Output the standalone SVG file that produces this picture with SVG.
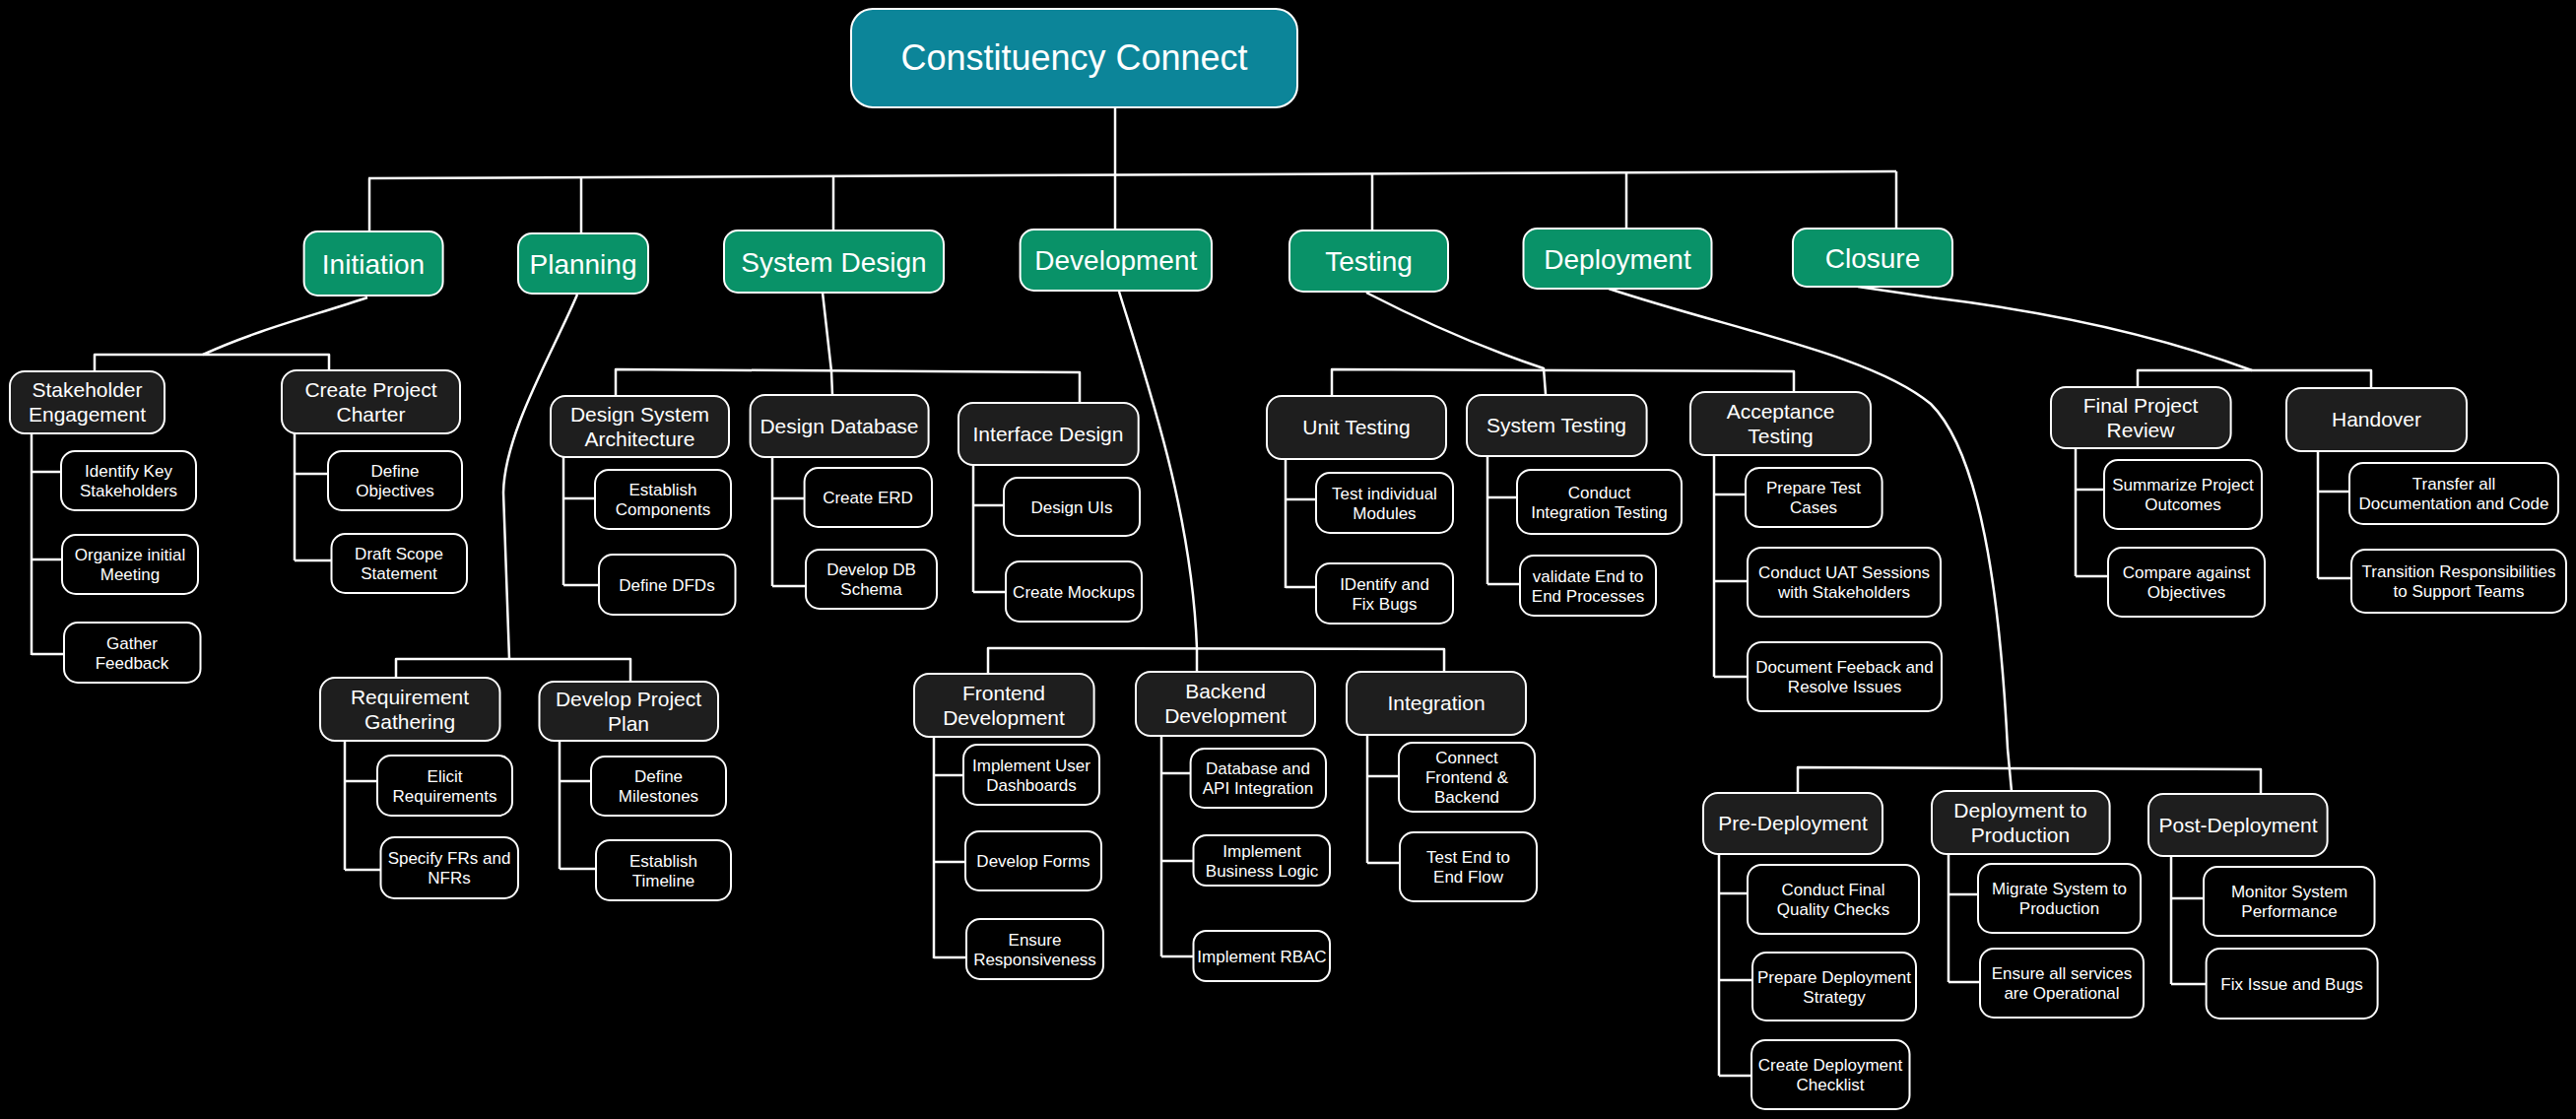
<svg xmlns="http://www.w3.org/2000/svg" width="2615" height="1136" viewBox="0 0 2615 1136">
<style>
.n rect{stroke:#fff;stroke-width:2}
.root rect{fill:#0c8599}
.phase rect{fill:#099268}
.task rect{fill:#1e1e1e}
.leaf rect{fill:#000}
text{font-family:"Liberation Sans",Arial,sans-serif;fill:#fff;text-anchor:middle}
.root text{font-size:36px}
.phase text{font-size:28px}
.task text{font-size:21px}
.leaf text{font-size:17px}
.conn path{stroke:#fff;stroke-width:2.5;fill:none;stroke-linejoin:round}
</style>
<rect width="2615" height="1136" fill="#000"/>
<g class="conn" id="connectors">
<path d="M1132,109 L1132,233"/>
<path d="M374,181 L1925,174"/>
<path d="M375,181 L375,235"/>
<path d="M590,180 L590,237"/>
<path d="M846,179 L846,234"/>
<path d="M1393,176 L1393,234"/>
<path d="M1651,175 L1651,232"/>
<path d="M1925,174 L1925,232"/>
<!-- Initiation -->
<path d="M373,302 C320,320 260,335 206,360"/>
<path d="M96,377 L96,360 L334,360 L334,376"/>
<path d="M32,440 L32,665"/>
<path d="M32,479 L62,479"/><path d="M32,568 L63,568"/><path d="M32,664 L65,664"/>
<path d="M299,440 L299,569"/>
<path d="M299,481 L333,481"/><path d="M299,569 L336,569"/>
<!-- Planning -->
<path d="M586,299 C560,360 512,440 511,500 L517,669"/>
<path d="M402,688 L402,669 L640,669 L640,692"/>
<path d="M350,752 L350,883"/>
<path d="M350,793 L383,793"/><path d="M350,883 L386,883"/>
<path d="M568,752 L568,882"/>
<path d="M568,793 L600,793"/><path d="M568,882 L605,882"/>
<!-- System Design -->
<path d="M835,297 L844,377 L845,401"/>
<path d="M625,402 L625,375 L1096,378 L1096,409"/>
<path d="M572,464 L572,594"/>
<path d="M572,506 L604,506"/><path d="M572,594 L608,594"/>
<path d="M784,464 L784,595"/>
<path d="M784,506 L816,506"/><path d="M784,595 L818,595"/>
<path d="M988,472 L988,601"/>
<path d="M988,513 L1019,513"/><path d="M988,601 L1021,601"/>
<!-- Development -->
<path d="M1136,296 C1165,390 1210,520 1215,658 L1215,682"/>
<path d="M1003,684 L1003,658 L1466,659 L1466,682"/>
<path d="M948,748 L948,973"/>
<path d="M948,787 L978,787"/><path d="M948,875 L980,875"/><path d="M948,972 L981,972"/>
<path d="M1179,748 L1179,971"/>
<path d="M1179,785 L1209,785"/><path d="M1179,874 L1212,874"/><path d="M1179,971 L1212,971"/>
<path d="M1388,746 L1388,876"/>
<path d="M1388,788 L1420,788"/><path d="M1388,876 L1421,876"/>
<!-- Testing -->
<path d="M1387,297 Q1480,345 1567,374 L1569,400"/>
<path d="M1352,402 L1352,375 L1821,377 L1821,398"/>
<path d="M1305,466 L1305,597"/>
<path d="M1305,507 L1336,507"/><path d="M1305,596 L1336,596"/>
<path d="M1510,463 L1510,593"/>
<path d="M1510,505 L1540,505"/><path d="M1510,593 L1543,593"/>
<path d="M1740,462 L1740,687"/>
<path d="M1740,502 L1772,502"/><path d="M1740,590 L1774,590"/><path d="M1740,687 L1774,687"/>
<!-- Deployment -->
<path d="M1633,293 C1760,335 1900,360 1960,410 C2010,460 2030,600 2038,760 L2042,803"/>
<path d="M1825,805 L1825,779 L2295,781 L2295,806"/>
<path d="M1745,867 L1745,1092"/>
<path d="M1745,907 L1774,907"/><path d="M1745,995 L1779,995"/><path d="M1745,1092 L1778,1092"/>
<path d="M1978,867 L1978,997"/>
<path d="M1978,908 L2008,908"/><path d="M1978,997 L2010,997"/>
<path d="M2204,869 L2204,999"/>
<path d="M2204,912 L2237,912"/><path d="M2204,999 L2240,999"/>
<!-- Closure -->
<path d="M1886,291 L1961,302 Q2150,325 2286,376"/>
<path d="M2170,393 L2170,376 L2407,376 L2407,395"/>
<path d="M2107,455 L2107,585"/>
<path d="M2107,497 L2136,497"/><path d="M2107,585 L2140,585"/>
<path d="M2353,458 L2353,587"/>
<path d="M2353,499 L2385,499"/><path d="M2353,587 L2387,587"/>
</g>

<g id="root" class="n root"><rect x="864" y="9" width="453" height="100" rx="22"/><text x="1090.5" y="71">Constituency Connect</text></g>

<g id="initiation" class="n phase"><rect x="308.6" y="235" width="141" height="65" rx="14"/><text x="379" y="277.5">Initiation</text></g>
<g id="planning" class="n phase"><rect x="526" y="237" width="132" height="61" rx="14"/><text x="592" y="277.5">Planning</text></g>
<g id="system-design" class="n phase"><rect x="735" y="234" width="223" height="63" rx="14"/><text x="846.5" y="275.5">System Design</text></g>
<g id="development" class="n phase"><rect x="1035.6" y="233" width="194.4" height="62" rx="14"/><text x="1132.8" y="274">Development</text></g>
<g id="testing" class="n phase"><rect x="1309" y="234" width="161" height="62" rx="14"/><text x="1389.5" y="275">Testing</text></g>
<g id="deployment" class="n phase"><rect x="1546.5" y="232" width="191" height="61" rx="14"/><text x="1642" y="272.5">Deployment</text></g>
<g id="closure" class="n phase"><rect x="1820" y="232" width="162" height="59" rx="14"/><text x="1901" y="271.5">Closure</text></g>

<g id="stakeholder-engagement" class="n task"><rect x="10" y="377" width="157" height="63" rx="15"/><text x="88.5" y="408.5"><tspan x="88.5" dy="-5.5">Stakeholder</tspan><tspan x="88.5" dy="25">Engagement</tspan></text></g>
<g id="create-project-charter" class="n task"><rect x="286" y="376" width="181" height="64" rx="15"/><text x="376.5" y="408"><tspan x="376.5" dy="-5.5">Create Project</tspan><tspan x="376.5" dy="25">Charter</tspan></text></g>
<g id="requirement-gathering" class="n task"><rect x="325" y="688" width="182.5" height="64" rx="15"/><text x="416" y="720"><tspan x="416" dy="-5.5">Requirement</tspan><tspan x="416" dy="25">Gathering</tspan></text></g>
<g id="develop-project-plan" class="n task"><rect x="547.5" y="692" width="181.5" height="60" rx="15"/><text x="638" y="722"><tspan x="638" dy="-5.5">Develop Project</tspan><tspan x="638" dy="25">Plan</tspan></text></g>
<g id="design-system-architecture" class="n task"><rect x="559" y="402" width="181" height="62" rx="15"/><text x="649.5" y="433"><tspan x="649.5" dy="-5.5">Design System</tspan><tspan x="649.5" dy="25">Architecture</tspan></text></g>
<g id="design-database" class="n task"><rect x="761.6" y="401" width="181" height="63" rx="15"/><text x="852" y="439.5">Design Database</text></g>
<g id="interface-design" class="n task"><rect x="973" y="409" width="182.7" height="63" rx="15"/><text x="1064" y="447.5">Interface Design</text></g>
<g id="frontend-development" class="n task"><rect x="928" y="684" width="182.6" height="64" rx="15"/><text x="1019" y="716"><tspan x="1019" dy="-5.5">Frontend</tspan><tspan x="1019" dy="25">Development</tspan></text></g>
<g id="backend-development" class="n task"><rect x="1153" y="682" width="182" height="65" rx="15"/><text x="1244" y="714.5"><tspan x="1244" dy="-5.5">Backend</tspan><tspan x="1244" dy="25">Development</tspan></text></g>
<g id="integration" class="n task"><rect x="1367" y="682" width="182" height="64" rx="15"/><text x="1458" y="721">Integration</text></g>
<g id="unit-testing" class="n task"><rect x="1286" y="402" width="182" height="64" rx="15"/><text x="1377" y="441">Unit Testing</text></g>
<g id="system-testing" class="n task"><rect x="1489" y="401" width="182.6" height="62" rx="15"/><text x="1580" y="439">System Testing</text></g>
<g id="acceptance-testing" class="n task"><rect x="1716" y="398" width="183" height="64" rx="15"/><text x="1807.5" y="430"><tspan x="1807.5" dy="-5.5">Acceptance</tspan><tspan x="1807.5" dy="25">Testing</tspan></text></g>
<g id="pre-deployment" class="n task"><rect x="1729" y="805" width="182" height="62" rx="15"/><text x="1820" y="843">Pre-Deployment</text></g>
<g id="deployment-to-production" class="n task"><rect x="1961" y="803" width="180.6" height="64" rx="15"/><text x="2051" y="835"><tspan x="2051" dy="-5.5">Deployment to</tspan><tspan x="2051" dy="25">Production</tspan></text></g>
<g id="post-deployment" class="n task"><rect x="2181" y="806" width="181.6" height="63" rx="15"/><text x="2272" y="844.5">Post-Deployment</text></g>
<g id="final-project-review" class="n task"><rect x="2082" y="393" width="182.6" height="62" rx="15"/><text x="2173" y="424"><tspan x="2173" dy="-5.5">Final Project</tspan><tspan x="2173" dy="25">Review</tspan></text></g>
<g id="handover" class="n task"><rect x="2321" y="394" width="183" height="64" rx="15"/><text x="2412.5" y="433">Handover</text></g>

<g id="identify-key-stakeholders" class="n leaf"><rect x="62" y="458" width="137" height="60" rx="14"/><text x="130.5" y="488"><tspan x="130.5" dy="-4">Identify Key</tspan><tspan x="130.5" dy="20">Stakeholders</tspan></text></g>
<g id="organize-initial-meeting" class="n leaf"><rect x="63" y="543" width="138" height="60" rx="14"/><text x="132" y="573"><tspan x="132" dy="-4">Organize initial</tspan><tspan x="132" dy="20">Meeting</tspan></text></g>
<g id="gather-feedback" class="n leaf"><rect x="65" y="632" width="138.5" height="61" rx="14"/><text x="134" y="662.5"><tspan x="134" dy="-4">Gather</tspan><tspan x="134" dy="20">Feedback</tspan></text></g>
<g id="define-objectives" class="n leaf"><rect x="333" y="458" width="136" height="60" rx="14"/><text x="401" y="488"><tspan x="401" dy="-4">Define</tspan><tspan x="401" dy="20">Objectives</tspan></text></g>
<g id="draft-scope-statement" class="n leaf"><rect x="336.5" y="542" width="137.5" height="60" rx="14"/><text x="405" y="572"><tspan x="405" dy="-4">Draft Scope</tspan><tspan x="405" dy="20">Statement</tspan></text></g>
<g id="elicit-requirements" class="n leaf"><rect x="383" y="767" width="137" height="61" rx="14"/><text x="451.5" y="797.5"><tspan x="451.5" dy="-4">Elicit</tspan><tspan x="451.5" dy="20">Requirements</tspan></text></g>
<g id="specify-frs-nfrs" class="n leaf"><rect x="386.5" y="850" width="139.5" height="62" rx="14"/><text x="456" y="881"><tspan x="456" dy="-4">Specify FRs and</tspan><tspan x="456" dy="20">NFRs</tspan></text></g>
<g id="define-milestones" class="n leaf"><rect x="600" y="768" width="137" height="60" rx="14"/><text x="668.5" y="798"><tspan x="668.5" dy="-4">Define</tspan><tspan x="668.5" dy="20">Milestones</tspan></text></g>
<g id="establish-timeline" class="n leaf"><rect x="605" y="853" width="137" height="61" rx="14"/><text x="673.5" y="883.5"><tspan x="673.5" dy="-4">Establish</tspan><tspan x="673.5" dy="20">Timeline</tspan></text></g>
<g id="establish-components" class="n leaf"><rect x="604" y="477" width="138" height="60" rx="14"/><text x="673" y="507"><tspan x="673" dy="-4">Establish</tspan><tspan x="673" dy="20">Components</tspan></text></g>
<g id="define-dfds" class="n leaf"><rect x="608" y="563" width="138.5" height="61" rx="14"/><text x="677" y="599.5">Define DFDs</text></g>
<g id="create-erd" class="n leaf"><rect x="816.6" y="475" width="129.4" height="60" rx="14"/><text x="881" y="511">Create ERD</text></g>
<g id="develop-db-schema" class="n leaf"><rect x="818" y="558" width="133" height="60" rx="14"/><text x="884.5" y="588"><tspan x="884.5" dy="-4">Develop DB</tspan><tspan x="884.5" dy="20">Schema</tspan></text></g>
<g id="design-uis" class="n leaf"><rect x="1019" y="485" width="138" height="59" rx="14"/><text x="1088" y="520.5">Design UIs</text></g>
<g id="create-mockups" class="n leaf"><rect x="1021" y="570" width="138" height="61" rx="14"/><text x="1090" y="606.5">Create Mockups</text></g>
<g id="implement-user-dashboards" class="n leaf"><rect x="978" y="756" width="138" height="61" rx="14"/><text x="1047" y="786.5"><tspan x="1047" dy="-4">Implement User</tspan><tspan x="1047" dy="20">Dashboards</tspan></text></g>
<g id="develop-forms" class="n leaf"><rect x="980" y="844" width="138" height="60" rx="14"/><text x="1049" y="880">Develop Forms</text></g>
<g id="ensure-responsiveness" class="n leaf"><rect x="981" y="933" width="139" height="61" rx="14"/><text x="1050.5" y="963.5"><tspan x="1050.5" dy="-4">Ensure</tspan><tspan x="1050.5" dy="20">Responsiveness</tspan></text></g>
<g id="database-api-integration" class="n leaf"><rect x="1208.6" y="760" width="137.4" height="60" rx="14"/><text x="1277" y="790"><tspan x="1277" dy="-4">Database and</tspan><tspan x="1277" dy="20">API Integration</tspan></text></g>
<g id="implement-business-logic" class="n leaf"><rect x="1211.5" y="848" width="138.5" height="51" rx="13"/><text x="1281" y="873.5"><tspan x="1281" dy="-4">Implement</tspan><tspan x="1281" dy="20">Business Logic</tspan></text></g>
<g id="implement-rbac" class="n leaf"><rect x="1211.5" y="945" width="138.5" height="51" rx="13"/><text x="1281" y="976.5">Implement RBAC</text></g>
<g id="connect-frontend-backend" class="n leaf"><rect x="1420" y="754" width="138" height="70" rx="14"/><text x="1489" y="789"><tspan x="1489" dy="-14">Connect</tspan><tspan x="1489" dy="20">Frontend &amp;</tspan><tspan x="1489" dy="20">Backend</tspan></text></g>
<g id="test-end-to-end-flow" class="n leaf"><rect x="1421" y="845" width="139" height="70" rx="14"/><text x="1490.5" y="880"><tspan x="1490.5" dy="-4">Test End to</tspan><tspan x="1490.5" dy="20">End Flow</tspan></text></g>
<g id="test-individual-modules" class="n leaf"><rect x="1336" y="480" width="139" height="61" rx="14"/><text x="1405.5" y="510.5"><tspan x="1405.5" dy="-4">Test individual</tspan><tspan x="1405.5" dy="20">Modules</tspan></text></g>
<g id="identify-fix-bugs" class="n leaf"><rect x="1336" y="572" width="139" height="61" rx="14"/><text x="1405.5" y="602.5"><tspan x="1405.5" dy="-4">IDentify and</tspan><tspan x="1405.5" dy="20">Fix Bugs</tspan></text></g>
<g id="conduct-integration-testing" class="n leaf"><rect x="1540" y="477" width="167" height="65" rx="14"/><text x="1623.5" y="509.5"><tspan x="1623.5" dy="-4">Conduct</tspan><tspan x="1623.5" dy="20">Integration Testing</tspan></text></g>
<g id="validate-end-to-end" class="n leaf"><rect x="1543" y="564" width="138" height="61" rx="14"/><text x="1612" y="594.5"><tspan x="1612" dy="-4">validate End to</tspan><tspan x="1612" dy="20">End Processes</tspan></text></g>
<g id="prepare-test-cases" class="n leaf"><rect x="1772" y="475" width="138.6" height="60" rx="14"/><text x="1841" y="505"><tspan x="1841" dy="-4">Prepare Test</tspan><tspan x="1841" dy="20">Cases</tspan></text></g>
<g id="conduct-uat" class="n leaf"><rect x="1774" y="556" width="196" height="70" rx="14"/><text x="1872" y="591"><tspan x="1872" dy="-4">Conduct UAT Sessions</tspan><tspan x="1872" dy="20">with Stakeholders</tspan></text></g>
<g id="document-feedback" class="n leaf"><rect x="1774" y="652" width="197" height="70" rx="14"/><text x="1872.5" y="687"><tspan x="1872.5" dy="-4">Document Feeback and</tspan><tspan x="1872.5" dy="20">Resolve Issues</tspan></text></g>
<g id="conduct-final-quality-checks" class="n leaf"><rect x="1774" y="878" width="174" height="70" rx="14"/><text x="1861" y="913"><tspan x="1861" dy="-4">Conduct Final</tspan><tspan x="1861" dy="20">Quality Checks</tspan></text></g>
<g id="prepare-deployment-strategy" class="n leaf"><rect x="1779" y="967" width="166" height="69" rx="14"/><text x="1862" y="1001.5"><tspan x="1862" dy="-4">Prepare Deployment</tspan><tspan x="1862" dy="20">Strategy</tspan></text></g>
<g id="create-deployment-checklist" class="n leaf"><rect x="1778" y="1056" width="160.5" height="70" rx="14"/><text x="1858" y="1091"><tspan x="1858" dy="-4">Create Deployment</tspan><tspan x="1858" dy="20">Checklist</tspan></text></g>
<g id="migrate-system" class="n leaf"><rect x="2008" y="877" width="165" height="70" rx="14"/><text x="2090.5" y="912"><tspan x="2090.5" dy="-4">Migrate System to</tspan><tspan x="2090.5" dy="20">Production</tspan></text></g>
<g id="ensure-services" class="n leaf"><rect x="2010" y="963" width="166" height="70" rx="14"/><text x="2093" y="998"><tspan x="2093" dy="-4">Ensure all services</tspan><tspan x="2093" dy="20">are Operational</tspan></text></g>
<g id="monitor-performance" class="n leaf"><rect x="2237" y="880" width="173.5" height="70" rx="14"/><text x="2324" y="915"><tspan x="2324" dy="-4">Monitor System</tspan><tspan x="2324" dy="20">Performance</tspan></text></g>
<g id="fix-issue-bugs" class="n leaf"><rect x="2239.6" y="963" width="174" height="71" rx="14"/><text x="2326.6" y="1004.5">Fix Issue and Bugs</text></g>
<g id="summarize-outcomes" class="n leaf"><rect x="2136" y="467" width="160" height="70" rx="14"/><text x="2216" y="502"><tspan x="2216" dy="-4">Summarize Project</tspan><tspan x="2216" dy="20">Outcomes</tspan></text></g>
<g id="compare-objectives" class="n leaf"><rect x="2140" y="556" width="159" height="70" rx="14"/><text x="2219.5" y="591"><tspan x="2219.5" dy="-4">Compare against</tspan><tspan x="2219.5" dy="20">Objectives</tspan></text></g>
<g id="transfer-documentation" class="n leaf"><rect x="2385" y="470" width="212" height="62" rx="14"/><text x="2491" y="501"><tspan x="2491" dy="-4">Transfer all</tspan><tspan x="2491" dy="20">Documentation and Code</tspan></text></g>
<g id="transition-responsibilities" class="n leaf"><rect x="2387" y="558" width="218" height="64" rx="14"/><text x="2496" y="590"><tspan x="2496" dy="-4">Transition Responsibilities</tspan><tspan x="2496" dy="20">to Support Teams</tspan></text></g>
</svg>
